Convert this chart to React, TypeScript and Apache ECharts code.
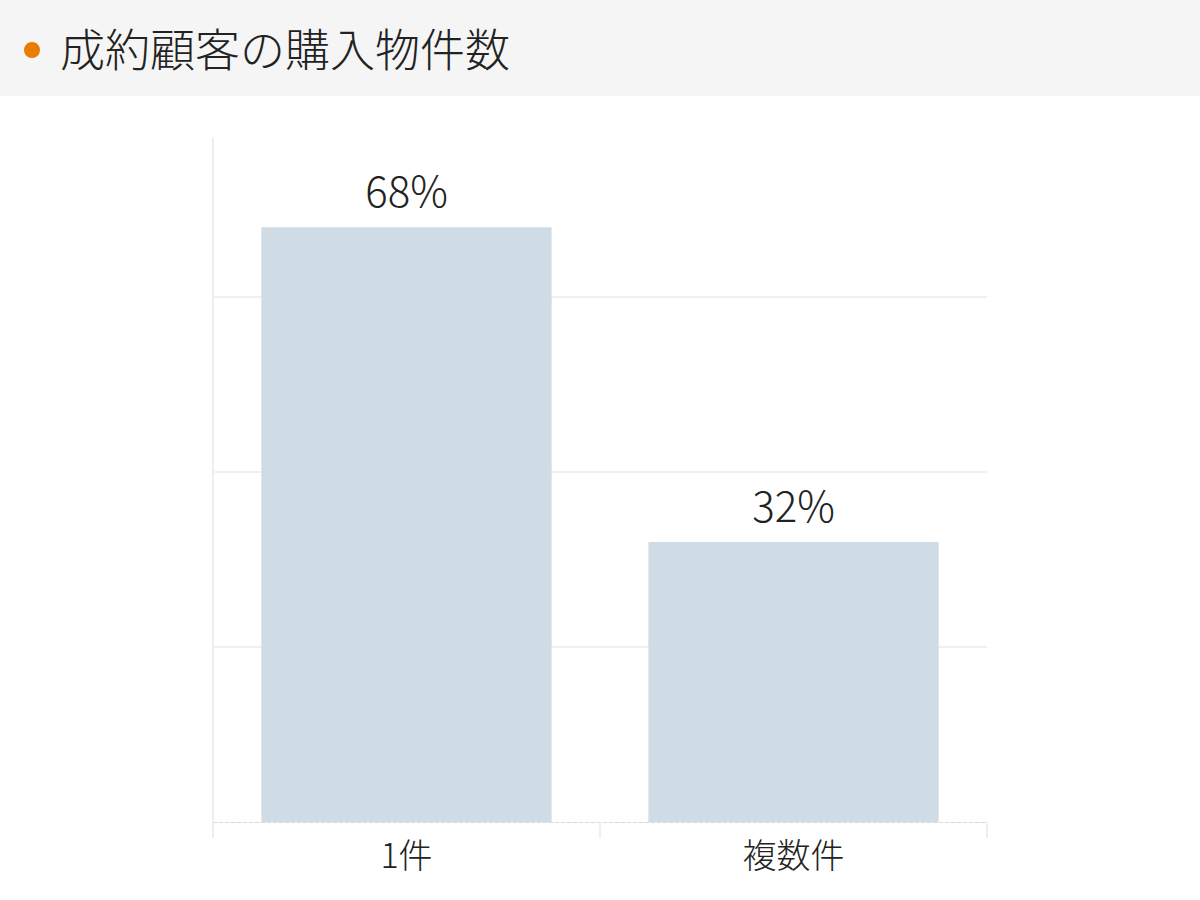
import React, { useEffect, useRef } from 'react';
import * as echarts from 'echarts';

const title = '成約顧客の購入物件数';
const categories = ['1件', '複数件'];
const shares = [68, 32];

const FONT = '"Noto Sans CJK JP", "Noto Sans", sans-serif';

const App: React.FC = () => {
  const chartRef = useRef<HTMLDivElement>(null);

  useEffect(() => {
    if (!chartRef.current) return;
    const chart = echarts.init(chartRef.current, undefined, { renderer: 'svg' });

    const option = {
      animation: false,
      backgroundColor: '#ffffff',
      textStyle: { fontFamily: FONT },
      graphic: [
        {
          type: 'rect',
          left: 0,
          top: 0,
          shape: { width: 1200, height: 96 },
          style: { fill: '#f5f5f5' },
          silent: true
        },
        {
          type: 'circle',
          shape: { cx: 32, cy: 50, r: 8 },
          style: { fill: '#e67e00' },
          silent: true
        },
        {
          type: 'text',
          left: 60,
          top: 25,
          style: {
            text: title,
            fontSize: 45,
            fontWeight: 300,
            fontFamily: FONT,
            fill: '#222222'
          },
          silent: true
        }
      ],
      grid: {
        left: 213,
        right: 213,
        top: 138,
        bottom: 78
      },
      xAxis: {
        type: 'category',
        data: categories,
        axisLine: {
          show: true,
          lineStyle: { color: '#d9d9d9', type: 'dashed', width: 1 }
        },
        axisTick: {
          show: true,
          length: 16,
          lineStyle: { color: '#eeeeee', width: 2 }
        },
        axisLabel: {
          margin: 14,
          fontSize: 34,
          fontWeight: 300,
          color: '#222222',
          fontFamily: FONT
        }
      },
      yAxis: {
        type: 'value',
        min: 0,
        max: (v: { max: number }) => v.max * 1.15,
        interval: 20,
        axisLabel: { show: false },
        axisTick: { show: false },
        axisLine: {
          show: true,
          lineStyle: { color: '#eeeeee', width: 2 }
        },
        splitLine: {
          show: true,
          showMinLine: false,
          showMaxLine: false,
          lineStyle: { color: '#f0f0f0', width: 2 }
        }
      },
      series: [
        {
          type: 'bar',
          data: shares,
          barWidth: '75%',
          itemStyle: { color: '#cfdce6' },
          label: {
            show: true,
            position: 'top',
            distance: 18,
            fontSize: 42,
            fontWeight: 300,
            color: '#222222',
            fontFamily: FONT,
            formatter: '{c}%'
          }
        }
      ]
    };

    chart.setOption(option);

    return () => {
      chart.dispose();
    };
  }, []);

  return (
    <div
      ref={chartRef}
      style={{ position: 'absolute', left: 0, top: 0, width: '1200px', height: '900px' }}
    ></div>
  );
};

export default App;
